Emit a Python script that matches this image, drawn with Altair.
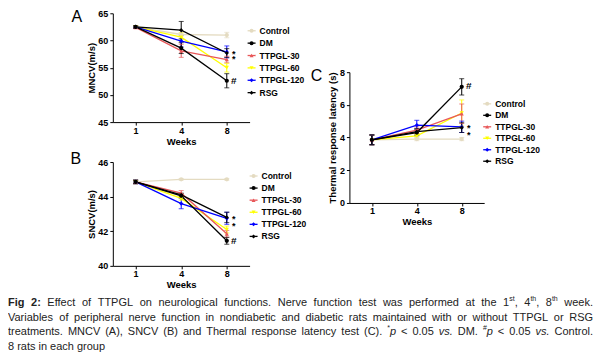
import altair as alt
import pandas as pd

FONT = "Liberation Sans"

# ---------------- data ----------------
weeks = ["1", "4", "8"]
series = ["Control", "DM", "TTPGL-30", "TTPGL-60", "TTPGL-120", "RSG"]
series_colors = ["#e4dbc1", "#000000", "#e8585a", "#ffff00", "#0000ff", "#000000"]
series_shapes = ["circle", "circle", "triangle-up", "triangle-down", "diamond", "diamond"]
draw_order = ["Control", "TTPGL-60", "TTPGL-30", "TTPGL-120", "RSG", "DM"]

# MNCV (m/s): means per series (order of `series`), then SEM
mncv_mean = [
    [62.5, 61.1, 61.0],
    [62.5, 58.6, 52.6],
    [62.4, 58.1, 56.5],
    [62.5, 60.6, 55.0],
    [62.5, 59.9, 57.9],
    [62.5, 61.9, 57.7],
]
mncv_err = [
    [0.2, 0.3, 0.5],
    [0.2, 1.0, 1.3],
    [0.2, 1.2, 0.6],
    [0.2, 0.8, 0.8],
    [0.2, 1.1, 1.1],
    [0.2, 1.6, 0.8],
]

# SNCV (m/s)
sncv_mean = [
    [44.85, 45.0, 45.0],
    [44.85, 44.05, 41.45],
    [44.85, 44.2, 41.85],
    [44.85, 43.9, 42.1],
    [44.85, 43.6, 42.75],
    [44.85, 44.1, 42.8],
]
sncv_err = [
    [0.05, 0.05, 0.05],
    [0.1, 0.1, 0.2],
    [0.1, 0.15, 0.2],
    [0.1, 0.1, 0.2],
    [0.1, 0.3, 0.35],
    [0.1, 0.1, 0.3],
]

# Thermal response latency (s)
thermal_mean = [
    [3.85, 3.9, 3.9],
    [3.85, 4.3, 7.1],
    [3.85, 4.45, 5.45],
    [3.85, 4.1, 5.5],
    [3.85, 4.75, 4.65],
    [3.85, 4.35, 4.6],
]
thermal_err = [
    [0.3, 0.1, 0.1],
    [0.3, 0.2, 0.5],
    [0.3, 0.2, 0.6],
    [0.3, 0.15, 0.8],
    [0.3, 0.3, 0.35],
    [0.3, 0.2, 0.3],
]

# significance marks at week 8 (pair of stacked "*" and one "#")
mncv_star = [58.2, 57.4]
mncv_hash = [52.5]
sncv_star = [43.0, 42.6]
sncv_hash = [41.44]
thermal_star = [4.9, 4.5]
thermal_hash = [7.14]

# caption words (kind: r regular, b bold, i italic, s superscript)
caption_line1 = [[("Fig", "b")], [("2:", "b")], [("Effect", "r")], [("of", "r")], [("TTPGL", "r")],
                 [("on", "r")], [("neurological", "r")], [("functions.", "r")], [("Nerve", "r")],
                 [("function", "r")], [("test", "r")], [("was", "r")], [("performed", "r")], [("at", "r")],
                 [("the", "r")], [("1", "r"), ("st", "s"), (",", "r")], [("4", "r"), ("th", "s"), (",", "r")],
                 [("8", "r"), ("th", "s")], [("week.", "r")]]
caption_line2 = [[(w, "r")] for w in
                 "Variables of peripheral nerve function in nondiabetic and diabetic rats maintained with or without TTPGL or RSG".split()]
caption_line3 = [[(w, "r")] for w in
                 "treatments. MNCV (A), SNCV (B) and Thermal response latency test (C).".split()] + [
    [("*", "s"), ("p", "i")], [("<", "r")], [("0.05", "r")], [("vs.", "i")], [("DM.", "r")],
    [("#", "s"), ("p", "i")], [("<", "r")], [("0.05", "r")], [("vs.", "i")], [("Control.", "r")]]
caption_line4 = [[(w, "r")] for w in "8 rats in each group".split()]

# ---------------- helpers ----------------
ARIAL = {" ": 278, "#": 556, "(": 333, ")": 333, "*": 389, ",": 278, "-": 333, ".": 278, "/": 278,
         ":": 278, "<": 584, "A": 667, "B": 667, "C": 722, "D": 722, "E": 667, "F": 611, "G": 778,
         "H": 722, "I": 278, "L": 556, "M": 833, "N": 722, "P": 667, "R": 722, "S": 667, "T": 611,
         "V": 667, "W": 944, "a": 556, "b": 556, "c": 500, "d": 556, "e": 556, "f": 278, "g": 556,
         "h": 556, "i": 222, "k": 500, "l": 222, "m": 833, "n": 556, "o": 556, "p": 556, "r": 333,
         "s": 500, "t": 278, "u": 556, "v": 500, "w": 722, "y": 500}
ARIAL_BOLD = {"F": 611, "i": 278, "g": 611, "2": 556, ":": 333, " ": 278}
CAP_SIZE, SUP_SIZE = 11, 7


def seg_width(text, kind):
    size = SUP_SIZE if kind == "s" else CAP_SIZE
    table = ARIAL_BOLD if kind == "b" else ARIAL
    return sum(table.get(c, 556) for c in text) * size / 1000.0


def layout_line(tokens, x0, x1, y, justify=True):
    widths = [sum(seg_width(t, k) for t, k in tok) for tok in tokens]
    gap = (x1 - x0 - sum(widths)) / (len(tokens) - 1) if justify else ARIAL[" "] * CAP_SIZE / 1000.0
    rows, x = [], x0
    for tok, w in zip(tokens, widths):
        cx = x
        for t, k in tok:
            rows.append({"t": t, "x": cx, "y": y - (4 if k == "s" else 0), "kind": k})
            cx += seg_width(t, k)
        x += w + gap
    return rows


axis_style = dict(
    labelFont=FONT, labelFontSize=9, labelFontWeight="bold", labelColor="#000",
    titleFont=FONT, titleFontSize=9.5, titleFontWeight="bold", titleColor="#000",
    domainColor="#000", domainWidth=1, tickColor="#000", tickWidth=1, tickSize=3,
    grid=False,
)


def build(means, errs):
    rows = []
    for s in draw_order:
        i = series.index(s)
        for w, m, e in zip(weeks, means[i], errs[i]):
            rows.append({"series": s, "week": w, "mean": m, "lo": m - e, "hi": m + e})
    return pd.DataFrame(rows)


def txt(text, x, y, size=11, weight="normal", align="left", baseline="middle", color="#000"):
    return alt.Chart(pd.DataFrame({"t": [text]})).mark_text(
        font=FONT, fontSize=size, fontWeight=weight, align=align, baseline=baseline, color=color,
    ).encode(text="t:N", x=alt.value(x), y=alt.value(y))


def panel(df, W, H, ydom, yrange, yvals, ytitle, ytp, xoff, stars, hashes, letter, lxy, leg):
    xscale = alt.Scale(type="point", domain=weeks, padding=0.5)
    xax = alt.Axis(title="Weeks", labelAngle=0, titlePadding=1, labelPadding=1, offset=xoff, **axis_style)
    xenc = alt.X("week:O", scale=xscale, axis=xax)
    if yrange is None:
        yscale = alt.Scale(domain=ydom, nice=False, zero=False)
        px_per_unit = H / (ydom[1] - ydom[0])
    else:
        yscale = alt.Scale(domain=ydom, nice=False, zero=False, range=yrange)
        px_per_unit = (yrange[0] - yrange[1]) / (ydom[1] - ydom[0])
    yax = alt.Axis(values=yvals, title=ytitle, titlePadding=ytp, labelPadding=2, **axis_style)
    color = alt.Color("series:N", scale=alt.Scale(domain=series, range=series_colors), legend=None)
    shape = alt.Shape("series:N", scale=alt.Scale(domain=series, range=series_shapes), legend=None)

    def Y(f):
        return alt.Y(f, scale=yscale, axis=yax)

    base = alt.Chart(df)
    layers = [
        base.mark_rule(strokeWidth=1).encode(x=xenc, y=Y("lo:Q"), y2="hi:Q", color=color),
        base.mark_tick(size=5, thickness=1).encode(x=xenc, y=Y("lo:Q"), color=color),
        base.mark_tick(size=5, thickness=1).encode(x=xenc, y=Y("hi:Q"), color=color),
        base.mark_line(strokeWidth=1.3).encode(x=xenc, y=Y("mean:Q"), color=color),
        base.mark_point(filled=True, size=18, opacity=1).encode(x=xenc, y=Y("mean:Q"), color=color, shape=shape),
    ]
    # stacked pair of stars drawn as one two-line text
    sdf = pd.DataFrame({"v": [sum(stars) / len(stars)], "week": ["8"]})
    lh = abs(stars[0] - stars[1]) * px_per_unit
    layers.append(alt.Chart(sdf).mark_text(text=["*", "*"], lineHeight=lh, font=FONT, fontSize=9,
                                           fontWeight="bold", dx=7, dy=2, baseline="middle",
                                           color="#000").encode(x=xenc, y=Y("v:Q")))
    hdf = pd.DataFrame({"t": ["#"] * len(hashes), "v": hashes, "week": ["8"] * len(hashes)})
    layers.append(alt.Chart(hdf).mark_text(font=FONT, fontSize=10, fontWeight="bold", dx=7,
                                           baseline="middle", color="#000").encode(x=xenc, y=Y("v:Q"), text="t:N"))
    layers.append(txt(letter, lxy[0], lxy[1], size=16, align="center", baseline="top"))
    mx, ty0, step = leg
    for i, s in enumerate(series):
        yy = ty0 + i * step
        one = pd.DataFrame({"t": [s]})
        layers.append(alt.Chart(one).mark_rule(color=series_colors[i], strokeWidth=1.3).encode(
            x=alt.value(mx - 4), x2=alt.value(mx + 4), y=alt.value(yy)))
        layers.append(alt.Chart(one).mark_point(filled=True, opacity=1, size=16, color=series_colors[i],
                                                shape=series_shapes[i]).encode(x=alt.value(mx), y=alt.value(yy)))
        layers.append(alt.Chart(one).mark_text(font=FONT, fontSize=8.5, fontWeight="bold", align="left",
                                               baseline="middle", color="#000").encode(
            text="t:N", x=alt.value(mx + 8), y=alt.value(yy)))
    return alt.layer(*layers).properties(width=W, height=H)


# page origins: A (113,12), C (350,12 cell; plot 71..202), B (113,161), caption cell (350,161)
A = panel(build(mncv_mean, mncv_err), 137, 109, [45, 65], None, [45, 50, 55, 60, 65], "MNCV(m/s)", 1, 0,
          mncv_star, mncv_hash, "A", (-36, -4.5), (139, 17.5, 12.4))
C = panel(build(thermal_mean, thermal_err), 135, 109, [0, 8], [189.7, 59], [0, 2, 4, 6, 8],
          "Thermal response latency (s)", 2, 81,
          thermal_star, thermal_hash, "C", (-33, 55), (138, 90.7, 11.5))
B = panel(build(sncv_mean, sncv_err), 137, 104, [40, 46], None, [40, 42, 44, 46], "SNCV(m/s)", 1, 0,
          sncv_star, sncv_hash, "B", (-37, -11), (141, 14, 12.1))

# caption, laid out justified between page x 8 and 594 (cell origin at page 350,161)
CX, CY = 350, 161
rows = []
rows += layout_line(caption_line1, 8, 594, 302)
rows += layout_line(caption_line2, 8, 594, 317)
rows += layout_line(caption_line3, 8, 594, 331.6)
rows += layout_line(caption_line4, 8, 594, 346.2, justify=False)
cdf = pd.DataFrame(rows)
cdf["x"] = cdf["x"] - CX
cdf["y"] = cdf["y"] - CY
cap_layers = []
for kind, size, weight, style in [("r", CAP_SIZE, "normal", "normal"), ("b", CAP_SIZE, "bold", "normal"),
                                  ("i", CAP_SIZE, "normal", "italic"), ("s", SUP_SIZE, "normal", "normal")]:
    cap_layers.append(alt.Chart(cdf[cdf["kind"] == kind]).mark_text(
        font=FONT, fontSize=size, fontWeight=weight, fontStyle=style, align="left", baseline="middle",
        color="#222222").encode(text="t:N", x=alt.X("x:Q", scale=None, axis=None),
                                y=alt.Y("y:Q", scale=None, axis=None)))
caption = alt.layer(*cap_layers).properties(width=135, height=10)

chart = alt.concat(A, C, B, caption, columns=2, spacing={"row": 40, "column": 100}, bounds="flush").properties(
    padding={"left": 0, "top": 0, "right": 0, "bottom": 0},
    background="white",
).configure_view(stroke=None)

chart.save("out.html", embed_options={"renderer": "svg", "actions": False})
